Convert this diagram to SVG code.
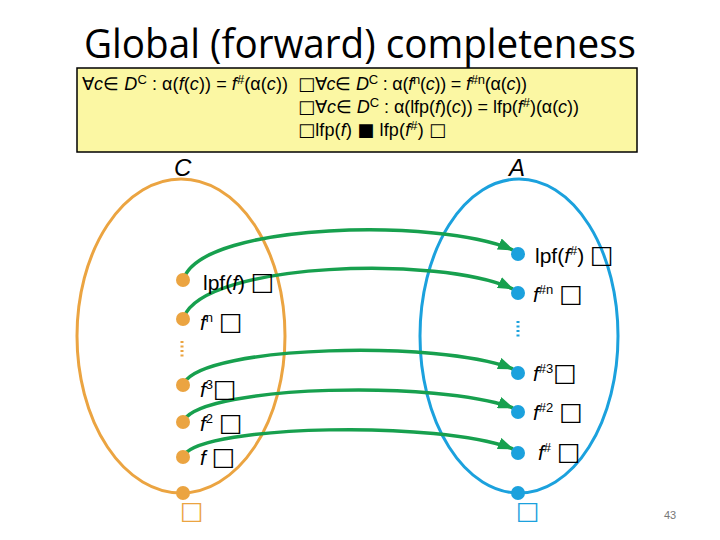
<svg xmlns="http://www.w3.org/2000/svg" width="720" height="540" viewBox="0 0 720 540">
<defs>
<style>
.t{font-family:"Liberation Sans",Arial,sans-serif;fill:#000}
.i{font-style:italic}
.bx{font-family:"DejaVu Sans",sans-serif}
.lb{font-size:25px}
.eo{fill:none;stroke:#EBA441;stroke-width:3}
.eb{fill:none;stroke:#1BA1DD;stroke-width:3}
.do{fill:#EBA441}
.db{fill:#1BA1DD}
.arr{fill:none;stroke:#17A04E;stroke-width:3.5;marker-end:url(#ah)}
.lbl{font-size:21px}
.sup{font-size:13px}
.fm{font-size:18px}
</style>
<marker id="ah" markerUnits="userSpaceOnUse" markerWidth="16" markerHeight="12" refX="15" refY="6" orient="auto">
<path d="M0,0 L16,6 L0,12 z" fill="#17A04E"/>
</marker>
</defs>
<rect width="720" height="540" fill="#fff"/>
<g id="title">
<text x="84" y="58" font-family="'Open Sans','Liberation Sans',sans-serif" font-size="40" textLength="552" lengthAdjust="spacingAndGlyphs" fill="#000">Global (forward) completeness</text>
</g>
<g id="formula-box">
<rect x="77" y="68" width="560" height="84" fill="#FBF7A3" stroke="#000" stroke-width="1.5"/>
<text class="t fm" x="82" y="90" textLength="206">∀<tspan class="i">c</tspan>∈ <tspan class="i">D</tspan><tspan class="sup" dy="-6">C</tspan><tspan dy="6"> : α(</tspan><tspan class="i">f</tspan>(<tspan class="i">c</tspan>)) = <tspan class="i">f</tspan><tspan class="sup" dy="-6">#</tspan><tspan dy="6">(α(</tspan><tspan class="i">c</tspan>))</text>
<text class="t fm" x="298" y="90" textLength="229"><tspan class="bx">□</tspan>∀<tspan class="i">c</tspan>∈ <tspan class="i">D</tspan><tspan class="sup" dy="-6">C</tspan><tspan dy="6"> : α(</tspan><tspan class="i">f</tspan><tspan class="sup" dy="-6">n</tspan><tspan dy="6">(</tspan><tspan class="i">c</tspan>)) = <tspan class="i">f</tspan><tspan class="sup" dy="-6">#n</tspan><tspan dy="6">(α(</tspan><tspan class="i">c</tspan>))</text>
<text class="t fm" x="298" y="113" textLength="281"><tspan class="bx">□</tspan>∀<tspan class="i">c</tspan>∈ <tspan class="i">D</tspan><tspan class="sup" dy="-6">C</tspan><tspan dy="6"> : α(lfp(</tspan><tspan class="i">f</tspan>)(<tspan class="i">c</tspan>)) = lfp(<tspan class="i">f</tspan><tspan class="sup" dy="-6">#</tspan><tspan dy="6">)(α(</tspan><tspan class="i">c</tspan>))</text>
<text class="t fm" x="298" y="136" textLength="148"><tspan class="bx">□</tspan>lfp(<tspan class="i">f</tspan>) <tspan class="bx" font-weight="bold">■</tspan> lfp(<tspan class="i">f</tspan><tspan class="sup" dy="-6">#</tspan><tspan dy="6">) </tspan><tspan class="bx">□</tspan></text>
</g>
<g id="set-C">
<ellipse class="eo" cx="181" cy="336" rx="104" ry="157"/>
<text class="t i" x="174" y="176" font-size="24">C</text>
</g>
<g id="set-A">
<ellipse class="eb" cx="519" cy="336" rx="99" ry="157"/>
<text class="t i" x="509" y="176" font-size="24">A</text>
</g>
<g id="connectors">
<path class="arr" d="M184,278 C205,222 440,218 513,250"/>
<path class="arr" d="M184,317 C205,262 440,255 513,289"/>
<path class="arr" d="M184,383 C205,345 440,340 513,369"/>
<path class="arr" d="M184,420 C205,385 440,380 513,408"/>
<path class="arr" d="M184,455 C205,425 440,420 513,449"/>
</g>
<g id="c-lfp"><circle class="do" cx="183" cy="280" r="7"/><text class="t lbl" x="203" y="290">lpf(<tspan class="i">f</tspan>) <tspan class="bx lb">□</tspan></text></g>
<g id="c-fn"><circle class="do" cx="183" cy="319" r="7"/><text class="t lbl" x="200" y="330"><tspan class="i">f</tspan><tspan class="sup" dy="-8">n</tspan><tspan dy="8"> </tspan><tspan class="bx lb">□</tspan></text></g>
<g id="c-dots"><line x1="182" y1="341" x2="182" y2="358" stroke="#EBA441" stroke-width="3" stroke-dasharray="2,2.5"/></g>
<g id="c-f3"><circle class="do" cx="183" cy="385" r="7"/><text class="t lbl" x="200" y="397"><tspan class="i">f</tspan><tspan class="sup" dy="-8">3</tspan><tspan dy="8" class="bx lb">□</tspan></text></g>
<g id="c-f2"><circle class="do" cx="183" cy="422" r="7"/><text class="t lbl" x="200" y="431"><tspan class="i">f</tspan><tspan class="sup" dy="-8">2</tspan><tspan dy="8"> </tspan><tspan class="bx lb">□</tspan></text></g>
<g id="c-f"><circle class="do" cx="183" cy="457" r="7"/><text class="t lbl" x="200" y="465"><tspan class="i">f</tspan> <tspan class="bx lb">□</tspan></text></g>
<g id="c-bottom"><circle class="do" cx="183" cy="493" r="7"/><text class="bx" x="180" y="519" font-size="25" fill="#EBA441">□</text></g>
<g id="a-lfp"><circle class="db" cx="518" cy="254" r="7"/><text class="t lbl" x="535" y="263">lpf(<tspan class="i">f</tspan><tspan class="sup" dy="-8">#</tspan><tspan dy="8">) </tspan><tspan class="bx lb">□</tspan></text></g>
<g id="a-fn"><circle class="db" cx="518" cy="293" r="7"/><text class="t lbl" x="533" y="302"><tspan class="i">f</tspan><tspan class="sup" dy="-8">#n</tspan><tspan dy="8"> </tspan><tspan class="bx lb">□</tspan></text></g>
<g id="a-dots"><line x1="518" y1="321" x2="518" y2="338" stroke="#1BA1DD" stroke-width="3" stroke-dasharray="2,2.5"/></g>
<g id="a-f3"><circle class="db" cx="518" cy="373" r="7"/><text class="t lbl" x="533" y="381"><tspan class="i">f</tspan><tspan class="sup" dy="-8">#3</tspan><tspan dy="8" class="bx lb">□</tspan></text></g>
<g id="a-f2"><circle class="db" cx="518" cy="412" r="7"/><text class="t lbl" x="533" y="420"><tspan class="i">f</tspan><tspan class="sup" dy="-8">#2</tspan><tspan dy="8"> </tspan><tspan class="bx lb">□</tspan></text></g>
<g id="a-f"><circle class="db" cx="518" cy="453" r="7"/><text class="t lbl" x="538" y="460"><tspan class="i">f</tspan><tspan class="sup" dy="-8">#</tspan><tspan dy="8"> </tspan><tspan class="bx lb">□</tspan></text></g>
<g id="a-bottom"><circle class="db" cx="518" cy="493" r="7"/><text class="bx" x="516" y="519" font-size="25" fill="#1BA1DD">□</text></g>
<g id="page"><text class="t" x="664" y="519" font-size="11" style="fill:#777">43</text></g>
</svg>
